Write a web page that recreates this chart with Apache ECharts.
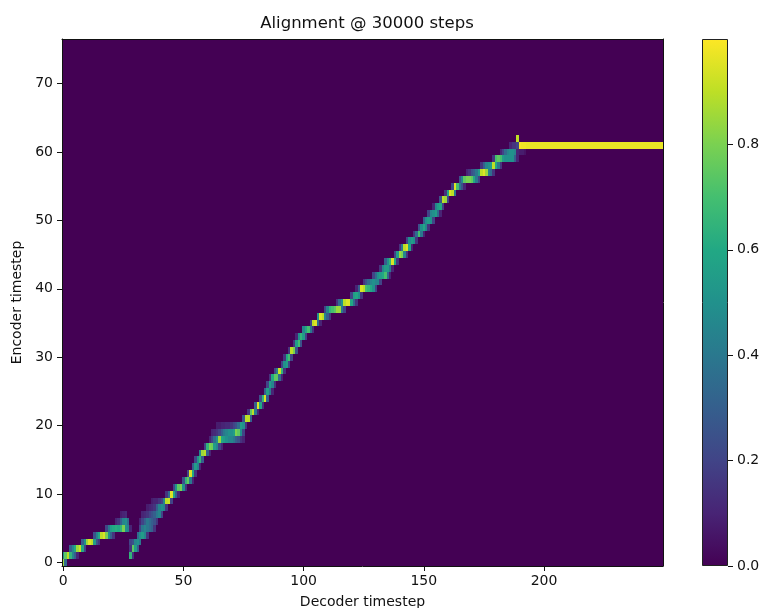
<!DOCTYPE html>
<html>
<head>
<meta charset="utf-8">
<title>Alignment @ 30000 steps</title>
<script src="https://cdn.jsdelivr.net/npm/echarts@6/dist/echarts.min.js"></script>
<style>
  html, body { margin: 0; padding: 0; background: #fff; }
  #chart { width: 762px; height: 608px; }
</style>
</head>
<body>
<div id="chart"></div>
<script>
// attention alignment (decoder step x encoder step), viridis colour scale
const decoderSteps = 250
const encoderSteps = 77
const xTicks = [0, 50, 100, 150, 200]
const yTicks = [0, 10, 20, 30, 40, 50, 60, 70]
const colorbarTicks = [0, 0.2, 0.4, 0.6, 0.8]
const colorbarMax = 1
const viridis = ['#440154', '#482475', '#414487', '#355f8d', '#2a788e', '#21918c',
  '#22a884', '#44bf70', '#7ad151', '#bddf26', '#fde725']

// [encoder step, first decoder step, weights for consecutive decoder steps]
// cells not listed are 0 (drawn as the plot background)
const alignmentRuns = [
  // first attempt, decoder 0-27
  [0, 0, [0.85, 0.35]],
  [1, 0, [0.5, 0.75, 0.9, 0.65, 0.45, 0.3, 0.1]],
  [2, 3, [0.3, 0.45, 0.6, 0.85, 0.92, 0.6, 0.2]],
  [3, 8, [0.3, 0.5, 0.85, 0.95, 0.9, 0.55, 0.25, 0.15]],
  [4, 13, [0.25, 0.45, 0.6, 0.9, 0.95, 0.8, 0.5, 0.3, 0.15]],
  [5, 18, [0.2, 0.4, 0.55, 0.6, 0.62, 0.6, 0.65, 0.8, 0.5, 0.45, 0.1]],
  [6, 22, [0.1, 0.15, 0.3, 0.45, 0.5, 0.35]],
  [7, 24, [0.08, 0.1, 0.12]],
  // restart from encoder 1
  [1, 28, [0.65, 0.15]],
  [2, 28, [0.15, 0.75, 0.55, 0.3]],
  [3, 28, [0.2, 0.25, 0.45, 0.5, 0.4]],
  [4, 31, [0.35, 0.5, 0.55, 0.45, 0.15]],
  [5, 32, [0.2, 0.4, 0.45, 0.4, 0.35, 0.3, 0.15]],
  [6, 32, [0.1, 0.2, 0.3, 0.4, 0.35, 0.3, 0.25, 0.15]],
  [7, 33, [0.1, 0.12, 0.15, 0.2, 0.25, 0.3, 0.4, 0.45, 0.2]],
  [8, 35, [0.08, 0.1, 0.12, 0.15, 0.3, 0.45, 0.5, 0.45, 0.15]],
  [9, 37, [0.08, 0.1, 0.1, 0.15, 0.2, 0.45, 0.9, 0.92, 0.2]],
  [10, 43, [0.15, 0.35, 0.95, 0.6, 0.3, 0.1]],
  [11, 46, [0.2, 0.5, 0.75, 0.8, 0.5, 0.15]],
  [12, 50, [0.25, 0.65, 0.75, 0.4, 0.1]],
  [13, 52, [0.2, 0.95, 0.6, 0.15]],
  [14, 54, [0.3, 0.55, 0.45, 0.1]],
  [15, 55, [0.2, 0.5, 0.65, 0.3]],
  [16, 57, [0.45, 0.85, 0.9, 0.3, 0.1]],
  [17, 59, [0.2, 0.65, 0.8, 0.78, 0.55, 0.45, 0.2, 0.1]],
  [18, 61, [0.1, 0.2, 0.35, 0.5, 0.85, 0.6, 0.55, 0.5, 0.45, 0.45, 0.4, 0.3, 0.25, 0.15, 0.1]],
  [19, 62, [0.1, 0.12, 0.15, 0.2, 0.3, 0.4, 0.45, 0.5, 0.5, 0.55, 0.8, 0.75, 0.5, 0.2]],
  [20, 64, [0.08, 0.08, 0.1, 0.1, 0.12, 0.12, 0.15, 0.2, 0.25, 0.35, 0.55, 0.5, 0.15]],
  [21, 75, [0.25, 0.9, 0.9, 0.3]],
  [22, 77, [0.15, 0.75, 0.9, 0.4, 0.1]],
  [23, 80, [0.3, 0.95, 0.6, 0.15]],
  [24, 82, [0.25, 0.65, 0.95, 0.3]],
  [25, 84, [0.3, 0.55, 0.4, 0.1]],
  [26, 85, [0.2, 0.55, 0.45, 0.15]],
  [27, 86, [0.15, 0.6, 0.75, 0.75, 0.35, 0.1]],
  [28, 88, [0.2, 0.4, 0.92, 0.65, 0.15]],
  [29, 91, [0.2, 0.5, 0.55, 0.2]],
  [30, 92, [0.15, 0.6, 0.7, 0.2]],
  [31, 94, [0.15, 0.9, 0.8, 0.25]],
  [32, 96, [0.15, 0.55, 0.7, 0.25]],
  [33, 97, [0.1, 0.5, 0.65, 0.55, 0.2]],
  [34, 100, [0.45, 0.6, 0.7, 0.4, 0.15]],
  [35, 103, [0.2, 0.9, 0.95, 0.35, 0.1]],
  [36, 106, [0.5, 0.95, 0.9, 0.45, 0.3, 0.15]],
  [37, 109, [0.2, 0.45, 0.65, 0.7, 0.75, 0.85, 0.85, 0.4, 0.2]],
  [38, 114, [0.15, 0.35, 0.5, 0.9, 0.95, 0.95, 0.6, 0.35, 0.15]],
  [39, 120, [0.2, 0.55, 0.6, 0.5, 0.15]],
  [40, 122, [0.1, 0.3, 0.95, 0.9, 0.7, 0.65, 0.6, 0.5, 0.2]],
  [41, 125, [0.15, 0.25, 0.35, 0.45, 0.5, 0.45, 0.45, 0.2]],
  [42, 129, [0.2, 0.35, 0.5, 0.55, 0.6, 0.7, 0.35, 0.1]],
  [43, 132, [0.15, 0.45, 0.55, 0.55, 0.4, 0.1]],
  [44, 134, [0.3, 0.5, 0.65, 0.95, 0.6, 0.15]],
  [45, 138, [0.2, 0.55, 0.85, 0.8, 0.45, 0.15]],
  [46, 140, [0.15, 0.4, 0.9, 0.95, 0.6, 0.1]],
  [47, 143, [0.2, 0.5, 0.55, 0.5, 0.15]],
  [48, 146, [0.15, 0.35, 0.7, 0.4, 0.1]],
  [49, 148, [0.25, 0.5, 0.6, 0.45, 0.15]],
  [50, 150, [0.3, 0.5, 0.55, 0.5, 0.2]],
  [51, 152, [0.2, 0.45, 0.5, 0.55, 0.35, 0.1]],
  [52, 154, [0.1, 0.45, 0.55, 0.6, 0.2]],
  [53, 157, [0.25, 0.9, 0.85, 0.2]],
  [54, 159, [0.15, 0.6, 0.95, 0.9, 0.4]],
  [55, 162, [0.2, 0.95, 0.7, 0.4, 0.25, 0.1]],
  [56, 165, [0.25, 0.45, 0.75, 0.8, 0.8, 0.75, 0.6, 0.4, 0.2]],
  [57, 168, [0.1, 0.15, 0.25, 0.3, 0.4, 0.55, 0.9, 0.95, 0.85, 0.45, 0.35, 0.15]],
  [58, 174, [0.15, 0.3, 0.45, 0.5, 0.55, 0.9, 0.6, 0.4, 0.15]],
  [59, 179, [0.15, 0.7, 0.75, 0.7, 0.55, 0.5, 0.5, 0.5, 0.5, 0.3, 0.1]],
  [60, 182, [0.1, 0.2, 0.35, 0.45, 0.5, 0.5, 0.45, 0.1, 0.08, 0.08, 0.05]],
  [61, 186, [0.1, 0.15, 0.15, 0.2]],
  [62, 189, [0.9]]
]

// encoder 61 held from decoder 190 to the end
const holdRow = 61
const holdStart = 190
const holdValues = [
  0.99, 0.98, 0.98, 0.97, 0.97, 0.97, 0.97, 0.97, 0.97, 0.97,
  0.97, 0.97, 0.97, 0.97, 0.97, 0.97, 0.97, 0.97, 0.97, 0.97,
  0.97, 0.97, 0.97, 0.97, 0.97, 0.97, 0.97, 0.97, 0.97, 0.97,
  0.97, 0.97, 0.97, 0.97, 0.97, 0.97, 0.97, 0.97, 0.97, 0.97,
  0.97, 0.97, 0.97, 0.97, 0.97, 0.97, 0.97, 0.97, 0.97, 0.97,
  0.97, 0.97, 0.97, 0.97, 0.97, 0.97, 0.97, 0.97, 0.97, 0.97
]

const cells = []
alignmentRuns.forEach(([enc, start, vals]) => {
  vals.forEach((v, i) => cells.push([start + i, enc, v]))
})
holdValues.forEach((v, i) => cells.push([holdStart + i, holdRow, v]))

const font = 'DejaVu Sans'
const ink = '#111'

function renderCell(params, api) {
  const d = api.value(0)
  const e = api.value(1)
  const a = api.coord([d - 0.5, e + 0.5])
  const b = api.coord([d + 0.5, e - 0.5])
  const x0 = Math.round(a[0])
  const y0 = Math.round(a[1])
  return {
    type: 'rect',
    shape: { x: x0, y: y0, width: Math.round(b[0]) - x0, height: Math.round(b[1]) - y0 },
    style: { fill: api.visual('color') }
  }
}

const chart = echarts.init(document.getElementById('chart'), null, { renderer: 'canvas' })

const frameAxis = {
  type: 'value',
  min: 0,
  max: 1,
  axisLine: { show: true, onZero: false, lineStyle: { color: ink, width: 1 } },
  axisTick: { show: false },
  axisLabel: { show: false },
  splitLine: { show: false },
  z: 10
}

chart.setOption({
  animation: false,
  backgroundColor: '#fff',
  title: {
    text: 'Alignment @ 30000 steps',
    left: 362,
    top: 10,
    textAlign: 'center',
    textStyle: { fontFamily: font, fontSize: 16.5, fontWeight: 'normal', color: ink }
  },
  grid: [
    {
      left: 62, top: 39, width: 601, height: 527,
      outerBoundsMode: 'none', containLabel: false,
      show: true, backgroundColor: viridis[0], borderWidth: 0
    },
    { left: 702, top: 39, width: 26, height: 527, outerBoundsMode: 'none', containLabel: false }
  ],
  visualMap: {
    type: 'continuous',
    show: false,
    min: 0,
    max: colorbarMax,
    dimension: 2,
    seriesIndex: 0,
    inRange: { color: viridis }
  },
  xAxis: [
    {
      type: 'value',
      gridIndex: 0,
      position: 'bottom',
      min: -0.5,
      max: decoderSteps - 0.5,
      axisLine: { onZero: false, lineStyle: { color: ink, width: 1 } },
      axisTick: { customValues: xTicks, length: 5, lineStyle: { color: ink } },
      axisLabel: { customValues: xTicks, margin: 8, fontFamily: font, fontSize: 14, color: ink },
      splitLine: { show: false },
      name: 'Decoder timestep',
      nameLocation: 'middle',
      nameGap: 29,
      nameTextStyle: { fontFamily: font, fontSize: 14, color: ink },
      z: 10
    },
    Object.assign({ gridIndex: 0, position: 'top' }, frameAxis),
    { type: 'category', gridIndex: 1, data: ['colorbar'], show: false }
  ],
  yAxis: [
    {
      type: 'value',
      gridIndex: 0,
      position: 'left',
      min: -0.5,
      max: encoderSteps - 0.5,
      axisLine: { onZero: false, lineStyle: { color: ink, width: 1 } },
      axisTick: { customValues: yTicks, length: 5, lineStyle: { color: ink } },
      axisLabel: { customValues: yTicks, margin: 9, fontFamily: font, fontSize: 14, color: ink },
      splitLine: { show: false },
      name: 'Encoder timestep',
      nameLocation: 'middle',
      nameGap: 36,
      nameTextStyle: { fontFamily: font, fontSize: 14, color: ink },
      z: 10
    },
    Object.assign({ gridIndex: 0, position: 'right' }, frameAxis),
    {
      type: 'value',
      gridIndex: 1,
      position: 'right',
      min: 0,
      max: colorbarMax,
      axisLine: { show: false },
      axisTick: { show: true, customValues: colorbarTicks, length: 5, lineStyle: { color: ink } },
      axisLabel: {
        customValues: colorbarTicks,
        margin: 9,
        fontFamily: font,
        fontSize: 14,
        color: ink,
        formatter: (v) => Number(v).toFixed(1)
      },
      splitLine: { show: false }
    }
  ],
  series: [
    {
      type: 'custom',
      name: 'alignment',
      xAxisIndex: 0,
      yAxisIndex: 0,
      data: cells,
      encode: { x: 0, y: 1 },
      renderItem: renderCell,
      silent: true
    },
    {
      type: 'bar',
      name: 'colorbar',
      xAxisIndex: 2,
      yAxisIndex: 2,
      data: [colorbarMax],
      barWidth: '100%',
      silent: true,
      itemStyle: {
        color: new echarts.graphic.LinearGradient(0, 1, 0, 0,
          viridis.map((c, i) => ({ offset: i / (viridis.length - 1), color: c }))),
        borderColor: '#222',
        borderWidth: 1
      }
    }
  ]
})
</script>
</body>
</html>
